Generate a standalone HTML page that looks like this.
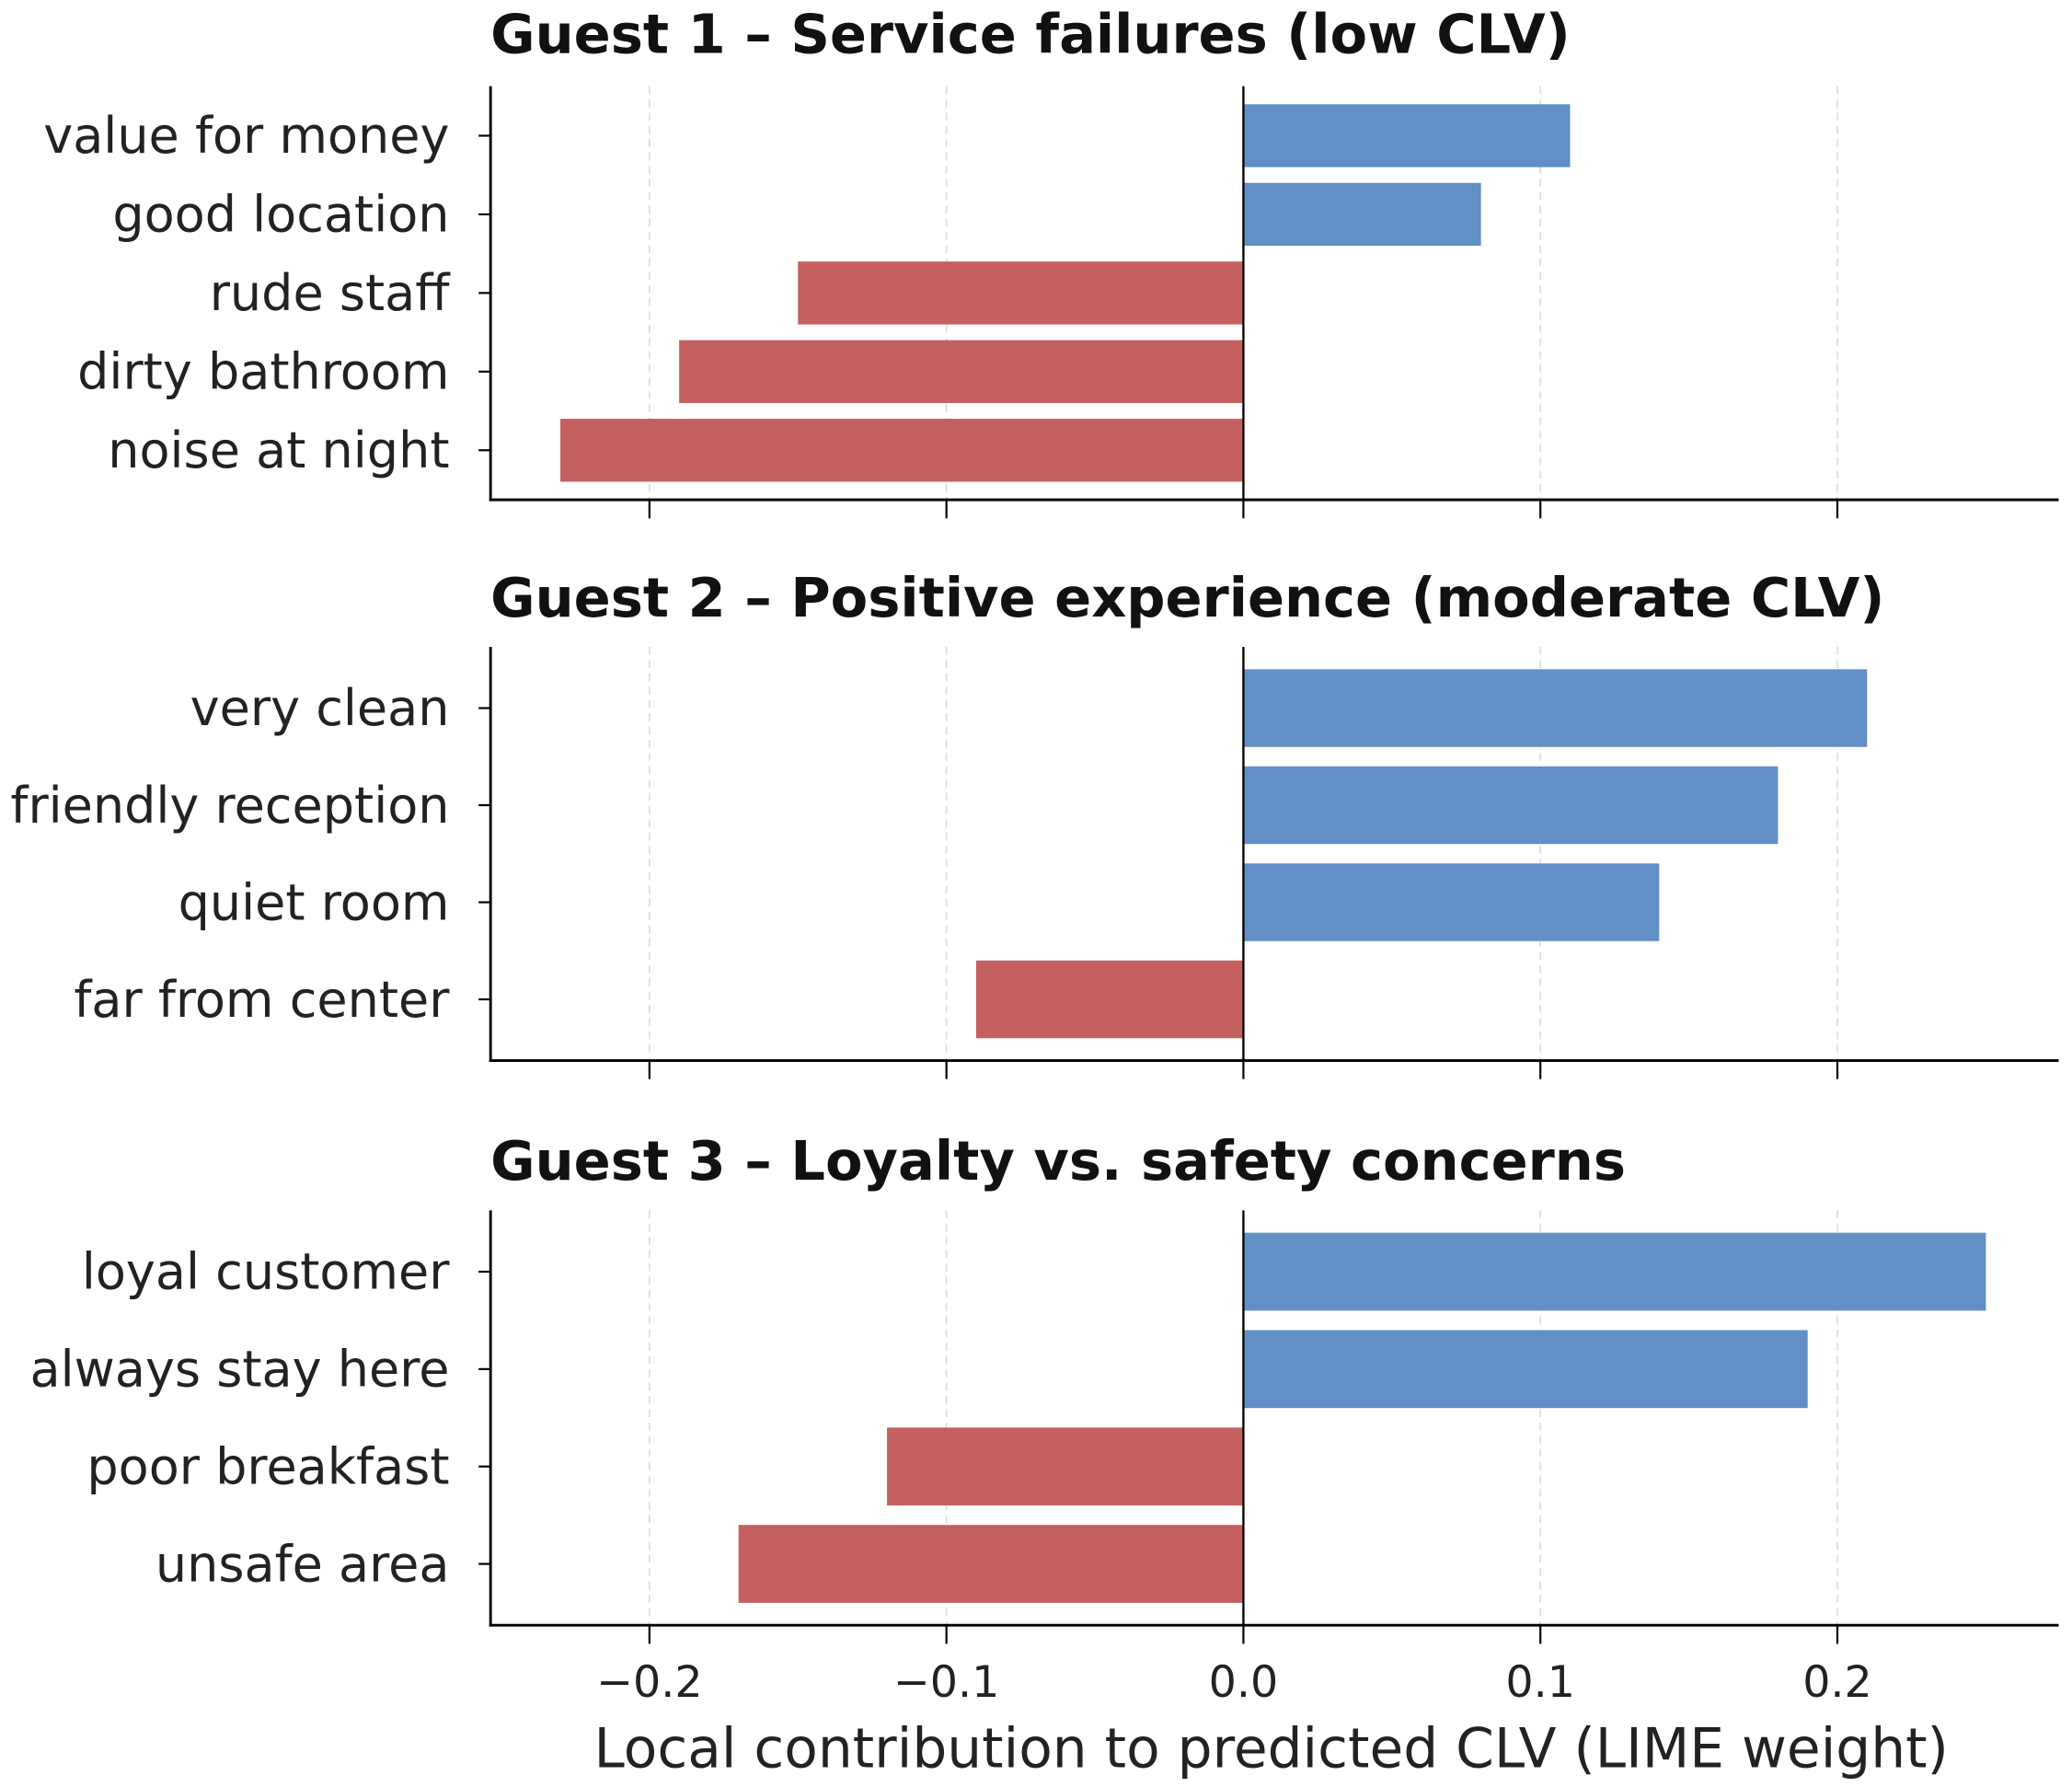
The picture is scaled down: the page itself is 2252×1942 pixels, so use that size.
<!DOCTYPE html>
<html><head><meta charset="utf-8"><style>
html,body{margin:0;padding:0;background:#fff;}
svg{display:block;font-family:"DejaVu Sans","Liberation Sans",sans-serif;}
</style></head><body>
<svg id="chart" width="2252" height="1942" viewBox="0 0 1563 1348" xmlns="http://www.w3.org/2000/svg"></svg>
<script>
const xTicks = [-0.2, -0.1, 0.0, 0.1, 0.2];
const xTickLabels = ["\u22120.2", "\u22120.1", "0.0", "0.1", "0.2"];
const titles = ["Guest 1 \u2013 Service failures (low CLV)", "Guest 2 \u2013 Positive experience (moderate CLV)", "Guest 3 \u2013 Loyalty vs. safety concerns"];
const cats1 = ["value for money", "good location", "rude staff", "dirty bathroom", "noise at night"];
const vals1 = [0.11, 0.08, -0.15, -0.19, -0.23];
const cats2 = ["very clean", "friendly reception", "quiet room", "far from center"];
const vals2 = [0.21, 0.18, 0.14, -0.09];
const cats3 = ["loyal customer", "always stay here", "poor breakfast", "unsafe area"];
const vals3 = [0.25, 0.19, -0.12, -0.17];

const NS = "http://www.w3.org/2000/svg";
const svg = document.getElementById("chart");
const X0 = 370, X1 = 1553, XMIN = -0.2535, XMAX = 0.2745;
const xs = v => X0 + (v - XMIN) / (XMAX - XMIN) * (X1 - X0);
function mk(tag, attrs, parent) {
  const e = document.createElementNS(NS, tag);
  for (const k in attrs) e.setAttribute(k, attrs[k]);
  (parent || svg).appendChild(e);
  return e;
}
const panels = [
  {cats: cats1, vals: vals1, top: 65, bottom: 377, titleY: 40},
  {cats: cats2, vals: vals2, top: 488, bottom: 800, titleY: 465},
  {cats: cats3, vals: vals3, top: 913, bottom: 1226, titleY: 890}
];
panels.forEach((p, pi) => {
  const g = mk("g", {});
  
  
  const n = p.cats.length;
  const ymin = -0.63, ymax = n - 1 + 0.63;
  const ys = i => p.top + (i - ymin) / (ymax - ymin) * (p.bottom - p.top);
  const unit = (p.bottom - p.top) / (ymax - ymin);
  xTicks.forEach(t => {
    if (t === 0) return;
    const l = mk("line", {x1: xs(t), x2: xs(t), y1: p.top, y2: p.bottom, stroke: "#ddd", "stroke-width": 1.2, "stroke-dasharray": "6,4"}, g);
    
    
  });
  p.vals.forEach((v, i) => {
    const x = Math.min(xs(0), xs(v)), w = Math.abs(xs(v) - xs(0));
    const r = mk("rect", {x: x, y: ys(i) - unit * 0.4, width: w, height: unit * 0.8, fill: v >= 0 ? "#618fc6" : "#c46060"}, g);
    
    
    const tk = mk("line", {x1: X0 - 9, x2: X0, y1: ys(i), y2: ys(i), stroke: "#000", "stroke-width": 1.5}, g);
    
    
    const tl = mk("text", {x: X0 - 31, y: ys(i) + 13, "text-anchor": "end", "font-size": 37.5, fill: "#222"}, g);
    tl.textContent = p.cats[i];
    
    
  });
  const z = mk("line", {x1: xs(0), x2: xs(0), y1: p.top, y2: p.bottom, stroke: "#000", "stroke-width": 1.6}, g);
  
  
  const sl = mk("line", {x1: X0, x2: X0, y1: p.top, y2: p.bottom + 1, stroke: "#000", "stroke-width": 2}, g);
  
  
  const sb = mk("line", {x1: X0 - 1, x2: X1, y1: p.bottom, y2: p.bottom, stroke: "#000", "stroke-width": 2}, g);
  
  
  xTicks.forEach((t, ti) => {
    const xt = mk("line", {x1: xs(t), x2: xs(t), y1: p.bottom, y2: p.bottom + 14, stroke: "#000", "stroke-width": 1.5}, g);
    
    
    if (pi === 2) {
      const lt = mk("text", {x: xs(t), y: p.bottom + 54, "text-anchor": "middle", "font-size": 33, fill: "#222"}, g);
      lt.textContent = xTickLabels[ti];
      
      
    }
  });
  const tt = mk("text", {x: X0, y: p.titleY, "font-size": 41, "font-weight": "bold", fill: "#111"}, g);
  tt.textContent = titles[pi];
  
  
});
const xl = mk("text", {x: 959, y: 1333, "text-anchor": "middle", "font-size": 41.5, fill: "#222"});
xl.textContent = "Local contribution to predicted CLV (LIME weight)";


</script>
</body></html>
